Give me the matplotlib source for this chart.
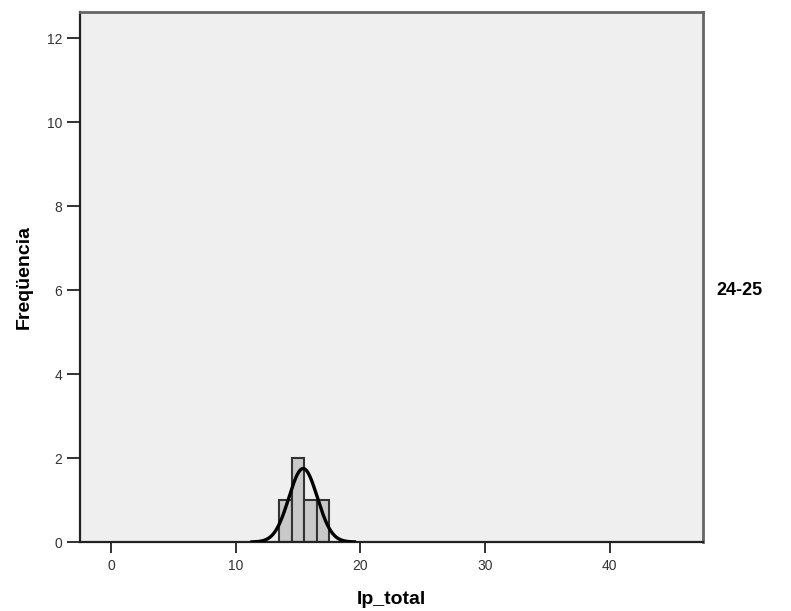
import numpy as np
import matplotlib
matplotlib.use("Agg")
import matplotlib.pyplot as plt

plt.rcParams['font.family'] = ['Liberation Sans', 'DejaVu Sans']

# Observed Ip_total values for the 24-25 group
values = [14, 15, 15, 16, 17]
bin_edges = [13.5, 14.5, 15.5, 16.5, 17.5]
group_label = "24-25"
x_ticks = [0, 10, 20, 30, 40]
y_ticks = [0, 2, 4, 6, 8, 10, 12]

fig = plt.figure(figsize=(7.91, 6.11), dpi=100)
fig.patch.set_facecolor('white')
ax = fig.add_axes([0.1011, 0.1129, 0.7873, 0.868])
ax.set_facecolor('#efefef')

ax.hist(values, bins=bin_edges, color='#c9c9c9', edgecolor='#333333',
        linewidth=1.5, zorder=2)

# Normal curve scaled to counts
mu = np.mean(values)
sd = np.std(values, ddof=1)
bw = bin_edges[1] - bin_edges[0]
xs = np.linspace(mu - 3.6 * sd, mu + 3.6 * sd, 300)
ys = len(values) * bw / (sd * np.sqrt(2 * np.pi)) * np.exp(-0.5 * ((xs - mu) / sd) ** 2)
ax.plot(xs, ys, color='black', linewidth=2.4, zorder=3)

ax.set_xlim(-2.5, 47.45)
ax.set_ylim(0, 12.63)
ax.set_xticks(x_ticks)
ax.set_yticks(y_ticks)
ax.tick_params(axis='both', direction='out', width=1.3,
               colors='#222222', labelsize=10, labelcolor='#333333')
ax.tick_params(axis='y', length=9.4, pad=3.5)
ax.tick_params(axis='x', length=8, pad=4.5)

for side in ['left', 'bottom']:
    ax.spines[side].set_color('#222222')
    ax.spines[side].set_linewidth(1.6)
for side in ['top', 'right']:
    ax.spines[side].set_color('#666666')
    ax.spines[side].set_linewidth(2.0)

ax.set_xlabel('Ip_total', fontsize=14, fontweight='bold', labelpad=13)
ax.set_ylabel('Freqüencia', fontsize=14, fontweight='bold', labelpad=10)

fig.text(0.935, 0.525, group_label, fontsize=13, fontweight='bold',
         ha='center', va='center')

fig.savefig('out.png', dpi=100)
